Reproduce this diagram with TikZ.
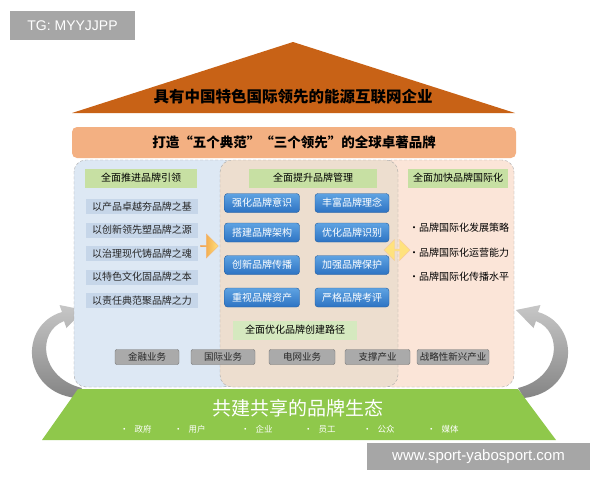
\documentclass[tikz,border=0pt]{standalone}
\usepackage{fontspec}
\setmainfont{Noto Sans CJK SC}
\newfontfamily\wmfont{Liberation Sans}
\usepackage{xcolor}
\usetikzlibrary{shapes.arrows}
\definecolor{roofc}{RGB}{200,98,22}
\definecolor{bannerc}{RGB}{243,176,130}
\definecolor{lpc}{RGB}{221,232,244}
\definecolor{mpc}{RGB}{237,222,207}
\definecolor{rpc}{RGB}{251,229,216}
\definecolor{hdrg}{RGB}{199,224,163}
\definecolor{footg}{RGB}{213,233,191}
\definecolor{itemb}{RGB}{198,214,233}
\definecolor{btnt}{RGB}{95,163,226}
\definecolor{btnb}{RGB}{45,115,195}
\definecolor{bizg}{RGB}{170,170,170}
\definecolor{greenc}{RGB}{143,200,75}
\definecolor{tgc}{RGB}{166,166,166}
\definecolor{arrowy}{RGB}{255,226,125}
\definecolor{arrowo}{RGB}{238,150,60}

\begin{document}
\begin{tikzpicture}[x=1pt,y=-1pt,
  panel/.style={draw=black!35,dash pattern=on 3pt off 2pt,rounded corners=12pt,inner sep=0pt},
  hdr/.style={fill=hdrg,inner sep=0pt,minimum height=19pt,font=\fontsize{10}{10}\selectfont},
  item/.style={fill=itemb,inner sep=0pt,minimum width=112pt,minimum height=15pt,text=black!85,font=\fontsize{10}{10}\selectfont},
  btn/.style={top color=btnt,bottom color=btnb,draw=btnb!80!black,rounded corners=3pt,inner sep=0pt,minimum height=19pt,text=white,font=\fontsize{10}{10}\selectfont},
  biz/.style={fill=bizg,draw=black!55,rounded corners=2pt,inner sep=0pt,minimum height=15pt,text=black!85,font=\fontsize{9.5}{10}\selectfont},
  ribbon/.style={top color=black!22,bottom color=black!48,draw=none}]
\useasboundingbox (0,0) rectangle (600,480);
\fill[white] (0,0) rectangle (600,480);

\node[fill=tgc,text=white,minimum width=125pt,minimum height=29pt,inner sep=0pt,font=\wmfont\fontsize{14}{14}\selectfont] (tg) at (72.5,25.5) {TG: MYYJJPP};

\fill[roofc] (293,42) -- (515,113) -- (72,113) -- cycle;
\node[font=\bfseries\fontsize{15.5}{16}\selectfont] (roof) at (293,97) {具有中国特色国际领先的能源互联网企业};

\node[fill=bannerc,rounded corners=5pt,minimum width=444pt,minimum height=31pt,inner sep=0pt,font=\bfseries\fontsize{13.5}{14}\selectfont] (banner) at (294,142.5) {打造“五个典范”“三个领先”的全球卓著品牌};

\shade[ribbon] (76,398) .. controls (22,392) and (18,325) .. (62,312) -- (59.5,305) -- (84,310) -- (66.5,328) -- (64,321) .. controls (36,332) and (40,378) .. (82,388) -- cycle;
\shade[ribbon] (524,398) .. controls (578,392) and (582,325) .. (538,312) -- (540.5,305) -- (516,310) -- (533.5,328) -- (536,321) .. controls (564,332) and (560,378) .. (518,388) -- cycle;

\node[panel,fill=lpc,minimum width=161pt,minimum height=227pt] (lp) at (154.5,273.5) {};
\node[panel,fill=rpc,minimum width=134pt,minimum height=227pt] (rp) at (447,273.5) {};
\node[panel,fill=mpc,minimum width=178pt,minimum height=227pt] (mp) at (309,273.5) {};

\node[hdr,minimum width=112pt] (h1) at (141,178) {全面推进品牌引领};
\node[hdr,minimum width=128pt] (h2) at (313,178) {全面提升品牌管理};
\node[hdr,minimum width=100pt] (h3) at (458,178) {全面加快品牌国际化};

\foreach \t [count=\i] in {以产品卓越夯品牌之基,以创新领先塑品牌之源,以治理现代铸品牌之魂,以特色文化固品牌之本,以责任典范聚品牌之力}
  \node[item] (l\i) at (142,{183+23.5*\i}) {\t};

\foreach \a/\b/\y [count=\i] in {强化品牌意识/丰富品牌理念/203,搭建品牌架构/优化品牌识别/232.5,创新品牌传播/加强品牌保护/265,重视品牌资产/严格品牌考评/297.5} {
  \node[btn,minimum width=75pt] (ba\i) at (262,\y) {\a};
  \node[btn,minimum width=74pt] (bb\i) at (352,\y) {\b};
}
\node[fill=footg,minimum width=124pt,minimum height=19pt,inner sep=0pt,font=\fontsize{10}{10}\selectfont] (h4) at (295,330) {全面优化品牌创建路径};

\foreach \t [count=\i] in {发展策略,运营能力,传播水平}
  \node[anchor=west,inner sep=0pt,font=\fontsize{10}{10}\selectfont] (r\i) at (409,{203.5+24.5*\i}) {•品牌国际化\t};

\foreach \t/\x/\w [count=\i] in {金融业务/147/64,国际业务/223/64,电网业务/302/66,支撑产业/377.5/65,战略性新兴产业/453/72}
  \node[biz,minimum width=\w pt] (bz\i) at (\x,357) {\t};

\node[single arrow,left color=arrowo,right color=arrowy,draw=arrowo!70,minimum height=18pt,minimum width=24pt,single arrow head extend=3pt,inner sep=0pt] (ar1) at (209,246) {};
\node[double arrow,fill=arrowy,draw=arrowo!50,minimum height=26pt,minimum width=21pt,double arrow head extend=2pt,inner sep=0pt] (ar2) at (397,250) {};

\fill[greenc] (78,389) -- (518,389) -- (556,440) -- (42,440) -- cycle;
\node[text=white,font=\fontsize{19}{20}\selectfont] (eco) at (298,408) {共建共享的品牌生态};
\foreach \t/\x [count=\i] in {政府/120,用户/174,企业/241,员工/304,公众/363,媒体/427}
  \node[anchor=west,text=white,inner sep=0pt,font=\fontsize{8.5}{9}\selectfont] (g\i) at (\x,429) {·\hspace{6pt}\t};

\node[fill=tgc,text=white,minimum width=223pt,minimum height=27pt,inner sep=0pt,font=\wmfont\fontsize{15}{15}\selectfont] (wm) at (478.5,456.5) {www.sport-yabosport.com};
\end{tikzpicture}
\end{document}
